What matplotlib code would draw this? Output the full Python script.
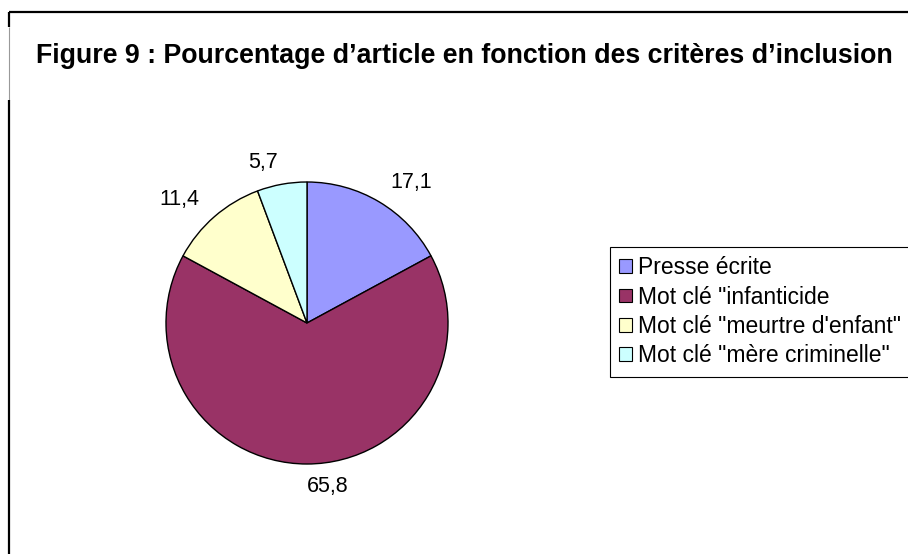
#!/usr/bin/env python3
"""Pie chart: Pourcentage d'article en fonction des critères d'inclusion."""

import matplotlib
matplotlib.use("Agg")
import matplotlib.pyplot as plt
from matplotlib.patches import Patch
from matplotlib.lines import Line2D

plt.rcParams["font.family"] = ["Liberation Sans", "DejaVu Sans"]

# ── Data ──────────────────────────────────────────────────────────────────
categories = ["Presse écrite", 'Mot clé "infanticide', 'Mot clé "meurtre d\'enfant"',
              'Mot clé "mère criminelle"']
values = [17.1, 65.8, 11.4, 5.7]
value_labels = ["17,1", "65,8", "11,4", "5,7"]
colors = ["#9999FF", "#993366", "#FFFFCC", "#CCFFFF"]

TITLE = "Figure 9 : Pourcentage d’article en fonction des critères d’inclusion"

W, H = 908, 554
fig = plt.figure(figsize=(W / 100, H / 100), dpi=100)

# ── Pie ───────────────────────────────────────────────────────────────────
cx, cy, r = 307, 323, 141
ax = fig.add_axes([(cx - r) / W, (H - cy - r) / H, 2 * r / W, 2 * r / H])
wedges, texts = ax.pie(values, labels=value_labels, colors=colors,
                       startangle=90, counterclock=False, labeldistance=1.16,
                       wedgeprops=dict(edgecolor="black", linewidth=1),
                       textprops=dict(fontsize=15.5, color="black"))
# bottom label sits just right of the vertical, like Excel does
texts[1].set_horizontalalignment("left")
ax.set_xlim(-1, 1)
ax.set_ylim(-1, 1)
ax.set_aspect("equal")
ax.axis("off")

# ── Title ─────────────────────────────────────────────────────────────────
fig.text(36 / W, 1 - 63 / H, TITLE, fontsize=19.3, fontweight="bold",
         ha="left", va="baseline")

# ── Legend ────────────────────────────────────────────────────────────────
handles = [Patch(facecolor=c, edgecolor="black", linewidth=0.8) for c in colors]
leg = fig.legend(handles, categories, loc="upper left",
                 bbox_to_anchor=(610 / W, 1 - 247 / H), fontsize=16.5,
                 frameon=True, fancybox=False, shadow=False, framealpha=1,
                 borderpad=0.4, labelspacing=0.28, handlelength=0.55,
                 handleheight=0.55, handletextpad=0.27, borderaxespad=0)
leg.get_frame().set_edgecolor("black")
leg.get_frame().set_linewidth(0.8)

# ── Chart area border (top and left only, as in the reference) ────────────
def fig_line(xs, ys, color="black", lw=1.6):
    fig.add_artist(Line2D([x / W for x in xs], [1 - y / H for y in ys],
                          color=color, linewidth=lw, solid_capstyle="butt"))

fig_line([9, W], [12, 12])
fig_line([9, 9], [12, 27])
fig_line([9, 9], [27, 100], color="#999999", lw=0.8)
fig_line([9, 9], [100, H])

fig.savefig("out.png", dpi=100)
